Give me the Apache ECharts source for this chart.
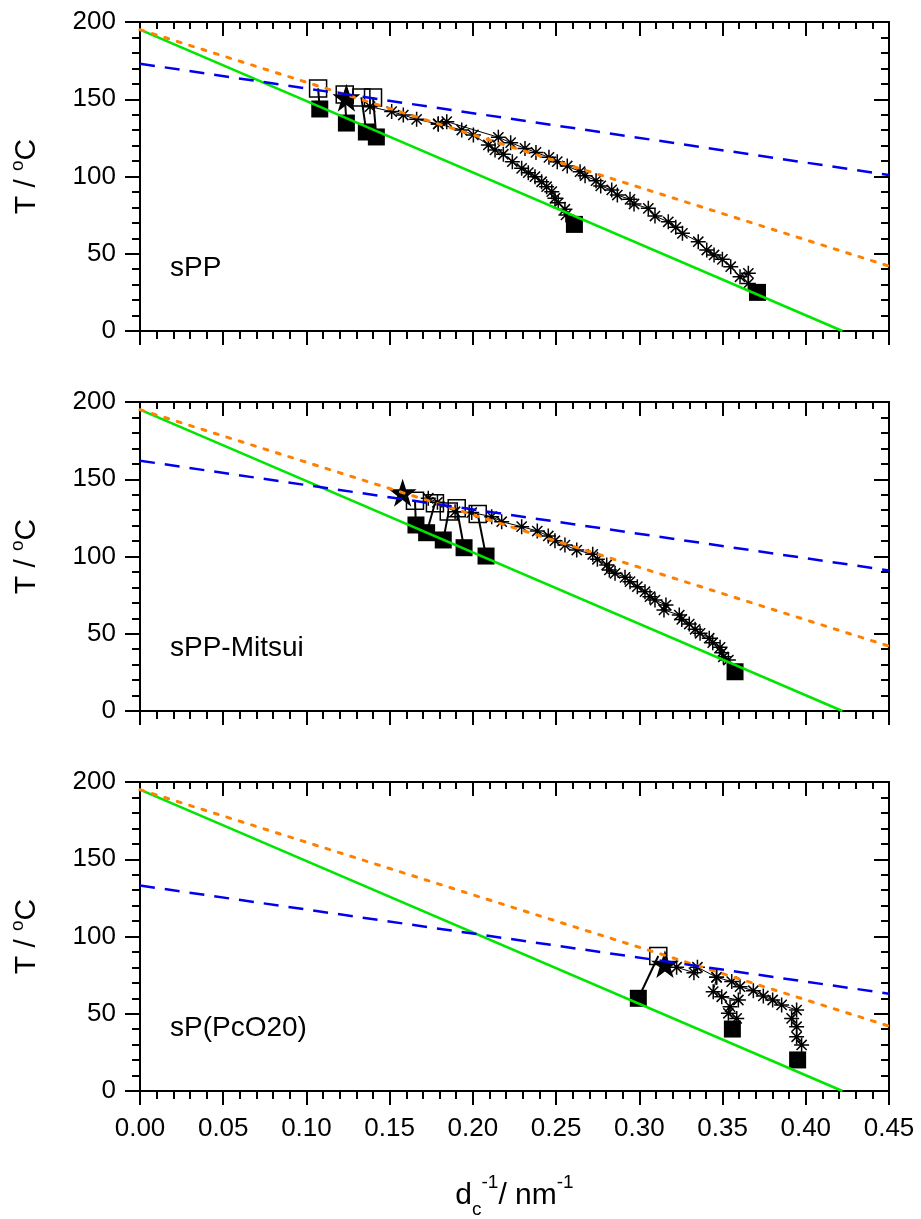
<!DOCTYPE html>
<html><head><meta charset="utf-8">
<script src="https://cdn.jsdelivr.net/npm/echarts@6/dist/echarts.min.js"></script>
<style>html,body{margin:0;padding:0;background:#fff}#c{width:921px;height:1219px}</style>
</head><body><div id="c"></div>
<script>
// ---------- axes ----------
const xMin = 0, xMax = 0.45, xInterval = 0.05;
const yMin = 0, yMax = 200, yInterval = 50;
const panelNames = ['sPP', 'sPP-Mitsui', 'sP(PcO20)'];

// ---------- fit lines (end points) ----------
const greenLine1 = [[0, 195], [0.422, 0]];
const greenLine2 = [[0, 195], [0.422, 0]];
const greenLine3 = [[0, 195], [0.422, 0]];
const orangeLine1 = [[0, 195], [0.45, 42]];
const orangeLine2 = [[0, 195], [0.45, 42]];
const orangeLine3 = [[0, 195], [0.45, 42]];
const blueLine1 = [[0, 173], [0.45, 101]];
const blueLine2 = [[0, 162], [0.45, 91]];
const blueLine3 = [[0, 133], [0.45, 63]];

// ---------- panel 1: sPP ----------
const sppFilled = [[0.108,143.7],[0.124,134.6],[0.136,128.8],[0.142,125.6],[0.261,69],[0.371,25]];
const sppOpen = [[0.107,157],[0.123,153],[0.133,151.2],[0.140,151.2]];
const sppStar = [[0.124,151]];
const sppAstUpper = [[0.1382,145.2],[0.1512,142],[0.1582,139.8],[0.1662,137],[0.1792,134],[0.1843,135.5],[0.2153,125.4],[0.2227,121.9],[0.2313,118.2],[0.2379,115.6],[0.2457,112.4],[0.2507,109.6],[0.2567,106.8],[0.2644,103.1],[0.2674,100.5],[0.274,97.3],[0.2768,93.9],[0.2834,91.3],[0.2868,88.0],[0.2944,85.2],[0.2968,82.2],[0.3054,79.4],[0.3094,74.4],[0.3174,70.7],[0.3219,67.1],[0.3259,63.2],[0.3354,57.8],[0.3405,52.4],[0.3449,49.2],[0.3499,46.4],[0.3549,41.6],[0.3605,35.1],[0.3655,37.3],[0.3655,30.8]];
const sppAstLower = [[0.1792,134],[0.1933,130.1],[0.2003,126.9],[0.2093,120.4],[0.2133,117.2],[0.2183,114.4],[0.2237,109.6],[0.2293,105.3],[0.2333,102.5],[0.2373,99.9],[0.2413,96.6],[0.2443,93.4],[0.2474,90.2],[0.2493,85.9],[0.2513,83.0],[0.2553,78.8],[0.2559,75.1]];

// ---------- panel 2: sPP-Mitsui ----------
const mitFilled = [[0.1658,120.4],[0.1722,115.4],[0.1822,110.7],[0.1947,105.7],[0.2079,100.3],[0.3575,25.4]];
const mitOpen = [[0.1652,136.1],[0.1772,134.4],[0.1855,129.2],[0.1903,131.2],[0.2029,127.5]];
const mitStar = [[0.1578,141.3]];
const mitAst = [[0.1732,137.7],[0.1787,135.1],[0.1893,129],[0.1993,128.4],[0.2113,125.8],[0.2173,122.5],[0.2293,119.3],[0.2387,116.5],[0.2453,113.3],[0.2493,110.2],[0.2553,107.4],[0.2624,104.2],[0.272,101.4],[0.2748,98.2],[0.2804,94.5],[0.282,91.3],[0.2854,89.1],[0.2914,86.5],[0.2944,83.7],[0.2988,80.5],[0.3034,77.2],[0.3064,74],[0.3094,71.8],[0.316,68.6],[0.3148,65.4],[0.324,62.1],[0.3255,59.3],[0.33,56.3],[0.3335,52.9],[0.3365,50.3],[0.342,47.1],[0.3441,44.2],[0.3485,41.2],[0.3495,37.7],[0.3505,35.1],[0.3535,33.0]];

// ---------- panel 3: sP(PcO20) ----------
const pcoFilled = [[0.2994,60],[0.3559,40.1],[0.3951,20.1]];
const pcoOpen = [[0.3114,87.4]];
const pcoStar = [[0.3154,82.2]];
const pcoAstA = [[0.3224,80.1],[0.3328,76.6],[0.3349,80.1],[0.3464,73.6],[0.3555,70.8],[0.3605,67.5],[0.3685,64.9],[0.3745,61.5],[0.3801,58.9],[0.3855,55.7],[0.3945,52.4],[0.3915,47.0],[0.3945,41.6],[0.3945,35.1],[0.3975,29.8]];
const pcoAstB = [[0.3464,73.6],[0.3444,64.3],[0.3495,61],[0.3595,58.9],[0.3545,54.6],[0.3535,50.3],[0.3585,47]];

const panels = [
  {filled: sppFilled, open: sppOpen, star: sppStar, ast: [sppAstUpper, sppAstLower], green: greenLine1, orange: orangeLine1, blue: blueLine1},
  {filled: mitFilled, open: mitOpen, star: mitStar, ast: [mitAst], green: greenLine2, orange: orangeLine2, blue: blueLine2},
  {filled: pcoFilled, open: pcoOpen, star: pcoStar, ast: [pcoAstA, pcoAstB], green: greenLine3, orange: orangeLine3, blue: blueLine3}
];

const FONT = '"Liberation Sans", Arial, sans-serif';
const starPath = 'path://M50,0 L61.8,35.3 L99,35.3 L69,57.3 L80.4,92.7 L50,70.8 L19.6,92.7 L31,57.3 L1,35.3 L38.2,35.3 Z';
const astPath = 'path://M5,0L5,10M0,5L10,5M1.6,1.6L8.4,8.4M8.4,1.6L1.6,8.4';

const gridTops = [22, 402, 782];
const grids = [], xAxes = [], yAxes = [], series = [], graphics = [];

gridTops.forEach((top, i) => {
  grids.push({left: 140, right: 32, top: top, height: 309, outerBoundsMode: 'none', containLabel: false});
  const common = {type: 'value', min: xMin, max: xMax, interval: xInterval, gridIndex: i, splitLine: {show: false},
    axisLine: {show: true, onZero: false, lineStyle: {color: '#000', width: 2}}};
  xAxes.push(Object.assign({}, common, {
    position: 'bottom',
    axisTick: {show: true, inside: false, length: 14, lineStyle: {color: '#000', width: 2}},
    minorTick: {show: true, splitNumber: 5, length: 8, lineStyle: {color: '#000', width: 2}},
    axisLabel: {show: i === 2, margin: 25, color: '#000', fontSize: 26, fontFamily: FONT, formatter: v => v.toFixed(2)},
    name: i === 2 ? '{b|d}{sub|c}{sup|-1}{b|/ nm}{sup|-1}' : '',
    nameLocation: 'middle', nameGap: 82,
    nameTextStyle: {color: '#000', fontFamily: FONT, rich: {
      b: {fontSize: 30, fontFamily: FONT, color: '#000', lineHeight: 46, verticalAlign: 'middle'},
      sub: {fontSize: 19, fontFamily: FONT, color: '#000', lineHeight: 46, verticalAlign: 'bottom'},
      sup: {fontSize: 19, fontFamily: FONT, color: '#000', lineHeight: 46, verticalAlign: 'top'}
    }}
  }));
  xAxes.push(Object.assign({}, common, {
    position: 'top',
    axisTick: {show: true, inside: true, length: 14, lineStyle: {color: '#000', width: 2}},
    minorTick: {show: true, splitNumber: 5, length: 7, lineStyle: {color: '#000', width: 2}},
    axisLabel: {show: false}
  }));
  const ycommon = {type: 'value', min: yMin, max: yMax, interval: yInterval, gridIndex: i, splitLine: {show: false},
    axisLine: {show: true, onZero: false, lineStyle: {color: '#000', width: 2}}};
  yAxes.push(Object.assign({}, ycommon, {
    position: 'left',
    axisTick: {show: true, inside: false, length: 15, lineStyle: {color: '#000', width: 2}},
    minorTick: {show: true, splitNumber: 5, length: 8, lineStyle: {color: '#000', width: 2}},
    axisLabel: {show: true, margin: 24, color: '#000', fontSize: 26, fontFamily: FONT},
    name: 'T / {sup|o}C', nameLocation: 'middle', nameGap: 94, nameRotate: 90,
    nameTextStyle: {color: '#000', fontSize: 30, fontFamily: FONT, rich: {
      sup: {fontSize: 19, fontFamily: FONT, color: '#000', verticalAlign: 'top', lineHeight: 38}
    }}
  }));
  yAxes.push(Object.assign({}, ycommon, {
    position: 'right',
    axisTick: {show: true, inside: true, length: 15, lineStyle: {color: '#000', width: 2}},
    minorTick: {show: true, splitNumber: 5, length: 8, lineStyle: {color: '#000', width: 2}},
    axisLabel: {show: false}
  }));

  const p = panels[i];
  const xa = i * 2, ya = i * 2;
  // drop lines between open and filled squares
  p.open.forEach((o, k) => {
    series.push({type: 'line', xAxisIndex: xa, yAxisIndex: ya, data: [o, p.filled[k]], symbol: 'none', silent: true,
      lineStyle: {color: '#000', width: 2}, z: 2, animation: false});
  });
  // asterisk branches
  p.ast.forEach(a => {
    series.push({type: 'line', xAxisIndex: xa, yAxisIndex: ya, data: a, symbol: astPath, symbolSize: 15,
      showSymbol: true, showAllSymbol: true,
      itemStyle: {color: 'rgba(0,0,0,0)', borderColor: '#000', borderWidth: 1.5, opacity: 1},
      lineStyle: {color: '#000', width: 1}, z: 3, animation: false});
  });
  series.push({type: 'scatter', xAxisIndex: xa, yAxisIndex: ya, data: p.open, symbol: 'rect', symbolSize: 17,
    itemStyle: {color: 'rgba(0,0,0,0)', borderColor: '#000', borderWidth: 1.5, opacity: 1}, z: 4, animation: false});
  series.push({type: 'scatter', xAxisIndex: xa, yAxisIndex: ya, data: p.filled, symbol: 'rect', symbolSize: 17,
    itemStyle: {color: '#000', opacity: 1}, z: 4, animation: false});
  series.push({type: 'scatter', xAxisIndex: xa, yAxisIndex: ya, data: p.star, symbol: starPath, symbolSize: 28,
    itemStyle: {color: '#000', opacity: 1}, z: 5, animation: false});
  // fit lines on top
  series.push({type: 'line', xAxisIndex: xa, yAxisIndex: ya, data: p.green, symbol: 'none',
    lineStyle: {color: '#00e600', width: 2.5, type: 'solid'}, z: 6, animation: false});
  series.push({type: 'line', xAxisIndex: xa, yAxisIndex: ya, data: p.orange, symbol: 'none',
    lineStyle: {color: '#ff8000', width: 3, type: [4, 9], cap: 'round'}, z: 6, animation: false});
  series.push({type: 'line', xAxisIndex: xa, yAxisIndex: ya, data: p.blue, symbol: 'none',
    lineStyle: {color: '#0000ee', width: 2.5, type: [15, 10]}, z: 6, animation: false});

  graphics.push({type: 'text', left: 170, top: top + 232, z: 10,
    style: {text: panelNames[i], fontSize: 28, fontFamily: FONT, fill: '#000'}});
});

const chart = echarts.init(document.getElementById('c'), null, {renderer: 'canvas'});
chart.setOption({
  animation: false,
  backgroundColor: '#fff',
  grid: grids, xAxis: xAxes, yAxis: yAxes, series: series, graphic: graphics
});
</script></body></html>
